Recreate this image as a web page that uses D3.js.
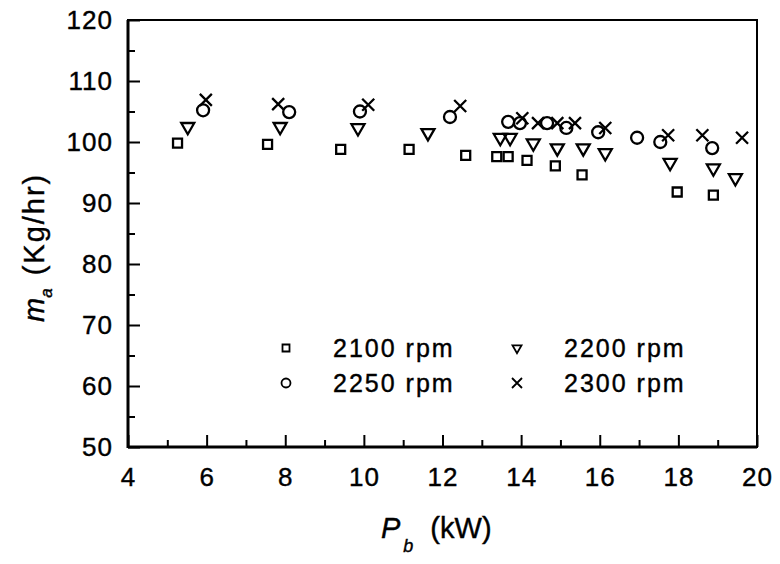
<!DOCTYPE html>
<html>
<head>
<meta charset="utf-8">
<script src="https://d3js.org/d3.v7.min.js"></script>
<style>
  body { margin: 0; background: #fff; }
  svg text { font-family: "Liberation Sans", Arial, Helvetica, sans-serif; fill: #000; stroke: #000; stroke-width: 0.4px; }
</style>
</head>
<body>
<div id="container"></div>
<script>
let w = 780;
let h = 564;

// plot box (pixels)
let plotLeft = 128, plotRight = 757, plotTop = 20, plotBottom = 447;

// DATA  P_b in kW, m_a in kg/hr
let pb2100 = [5.26, 7.55, 9.41, 11.15, 12.59, 13.38, 13.67, 14.15, 14.87, 15.55, 17.97, 18.89];
let ma2100 = [99.8, 99.6, 98.8, 98.8, 97.8, 97.6, 97.6, 97.0, 96.1, 94.6, 91.8, 91.3];

let pb2200 = [5.52, 7.87, 9.85, 11.63, 13.47, 13.72, 14.31, 14.92, 15.58, 16.14, 17.79, 18.89, 19.45];
let ma2200 = [102.5, 102.5, 102.3, 101.5, 100.7, 100.7, 99.8, 99.0, 99.0, 98.2, 96.6, 95.7, 94.1];

let pb2250 = [5.91, 8.10, 9.90, 12.19, 13.67, 13.97, 14.66, 15.15, 15.96, 16.95, 17.54, 18.86];
let ma2250 = [105.2, 104.9, 105.0, 104.1, 103.3, 103.1, 103.1, 102.3, 101.6, 100.7, 100.0, 99.0];

let pb2300 = [5.98, 7.82, 10.11, 12.45, 14.03, 14.43, 14.92, 15.37, 16.14, 17.74, 18.61, 19.62];
let ma2300 = [106.9, 106.2, 106.1, 105.9, 103.9, 103.1, 103.1, 103.1, 102.3, 101.1, 101.1, 100.7];

let xMajor = [4, 6, 8, 10, 12, 14, 16, 18, 20];
let xMinor = [5, 7, 9, 11, 13, 15, 17, 19];
let yMajor = [50, 60, 70, 80, 90, 100, 110, 120];
let yMinor = [55, 65, 75, 85, 95, 105, 115];

let legendLabels = ["2100 rpm", "2200 rpm", "2250 rpm", "2300 rpm"];

// SVG
let viz = d3.select("#container").append("svg")
    .attr("width", w)
    .attr("height", h)
    .style("background-color", "white")
;

// SCALES
let xScale = d3.scaleLinear().domain([4, 20]).range([plotLeft, plotRight]);
let yScale = d3.scaleLinear().domain([50, 120]).range([plotBottom, plotTop]);

// marker shapes, centred on 0,0
function markerPath(kind, s) {
  let p = d3.path();
  if (kind == "square") {
    p.rect(-s / 2, -s / 2, s, s);
  } else if (kind == "triangle") {
    // pointing down
    let hw = s / 2, th = s * 0.87;
    p.moveTo(-hw, -th / 3);
    p.lineTo(hw, -th / 3);
    p.lineTo(0, th * 2 / 3);
    p.closePath();
  } else if (kind == "circle") {
    p.moveTo(s / 2, 0);
    p.arc(0, 0, s / 2, 0, Math.PI * 2);
  } else {
    let r = s / 2;
    p.moveTo(-r, -r); p.lineTo(r, r);
    p.moveTo(-r, r); p.lineTo(r, -r);
  }
  return p.toString();
}

let series = [
  { kind: "square", xs: pb2100, ys: ma2100, size: 9 },
  { kind: "triangle", xs: pb2200, ys: ma2200, size: 13 },
  { kind: "circle", xs: pb2250, ys: ma2250, size: 12 },
  { kind: "cross", xs: pb2300, ys: ma2300, size: 12 }
];

// AXES (ticks point inward)
let xAxis = d3.axisBottom(xScale).tickValues(xMajor).tickSize(-12).tickPadding(21).tickFormat(d3.format("d"));
let xAxisMinor = d3.axisBottom(xScale).tickValues(xMinor).tickSize(-7).tickFormat("");
let yAxis = d3.axisLeft(yScale).tickValues(yMajor).tickSize(-12).tickPadding(15).tickFormat(d3.format("d"));
let yAxisMinor = d3.axisLeft(yScale).tickValues(yMinor).tickSize(-7).tickFormat("");

function styleAxis(g) {
  g.select(".domain").remove();
  g.selectAll(".tick line").attr("stroke", "#000").attr("stroke-width", 2);
  g.selectAll(".tick text")
    .style("font-size", "26px")
    .style("letter-spacing", "1px")
    .style("font-family", "'Liberation Sans', Arial, sans-serif");
}

viz.append("g").attr("transform", "translate(0," + plotBottom + ")").call(xAxis).call(styleAxis);
viz.append("g").attr("transform", "translate(0," + plotBottom + ")").call(xAxisMinor).call(styleAxis);
viz.append("g").attr("transform", "translate(" + plotLeft + ",0)").call(yAxis).call(styleAxis);
viz.append("g").attr("transform", "translate(" + plotLeft + ",0)").call(yAxisMinor).call(styleAxis);

// frame
viz.append("rect")
    .attr("x", plotLeft)
    .attr("y", plotTop)
    .attr("width", plotRight - plotLeft)
    .attr("height", plotBottom - plotTop)
    .attr("fill", "none")
    .attr("stroke", "black")
    .attr("stroke-width", 2)
;
viz.append("line")
    .attr("x1", plotLeft).attr("x2", plotLeft)
    .attr("y1", plotTop).attr("y2", plotBottom + 1)
    .attr("stroke", "black").attr("stroke-width", 3);
viz.append("line")
    .attr("x1", plotLeft).attr("x2", plotRight)
    .attr("y1", plotBottom).attr("y2", plotBottom)
    .attr("stroke", "black").attr("stroke-width", 3);

// POINTS
series.forEach(function(s) {
  let pts = s.xs.map(function(x, i) { return [x, s.ys[i]]; });
  viz.selectAll(".pt-" + s.kind).data(pts).enter()
    .append("path")
      .attr("class", "pt-" + s.kind)
      .attr("d", markerPath(s.kind, s.size))
      .attr("transform", function(d) {
        return "translate(" + xScale(d[0]) + "," + yScale(d[1]) + ")";
      })
      .attr("fill", "none")
      .attr("stroke", "black")
      .attr("stroke-width", 2.3)
  ;
});

// LEGEND (2 x 2)
let legendKinds = ["square", "triangle", "circle", "cross"];
let legendSizes = [7, 9, 9, 10];
let legendPos = [[286, 348], [517, 348], [286, 383], [517, 383]];
legendLabels.forEach(function(label, i) {
  let g = viz.append("g").attr("transform", "translate(" + legendPos[i][0] + "," + legendPos[i][1] + ")");
  g.append("path")
    .attr("d", markerPath(legendKinds[i], legendSizes[i]))
    .attr("fill", "none")
    .attr("stroke", "black")
    .attr("stroke-width", 1.8);
  g.append("text")
    .attr("x", 47)
    .attr("y", 9)
    .style("font-size", "25px")
    .style("letter-spacing", "2px")
    .text(label);
});

// AXIS TITLES
let xt = viz.append("text")
    .attr("x", 381)
    .attr("y", 538)
    .style("font-size", "29px");
xt.append("tspan").style("font-style", "italic").text("P");
xt.append("tspan").attr("dy", 14).attr("dx", 3).style("font-size", "18px").style("font-style", "italic").text("b");
xt.append("tspan").attr("dy", -14).attr("dx", 17).text("(kW)");

let yt = viz.append("text")
    .attr("transform", "translate(44,322) rotate(-90)")
    .style("font-size", "29px");
yt.append("tspan").style("font-style", "italic").text("m");
yt.append("tspan").attr("dy", 8).style("font-size", "17px").style("font-style", "italic").text("a");
yt.append("tspan").attr("dy", -8).attr("dx", 13).style("letter-spacing", "2px").text("(Kg/hr)");
</script>
</body>
</html>
